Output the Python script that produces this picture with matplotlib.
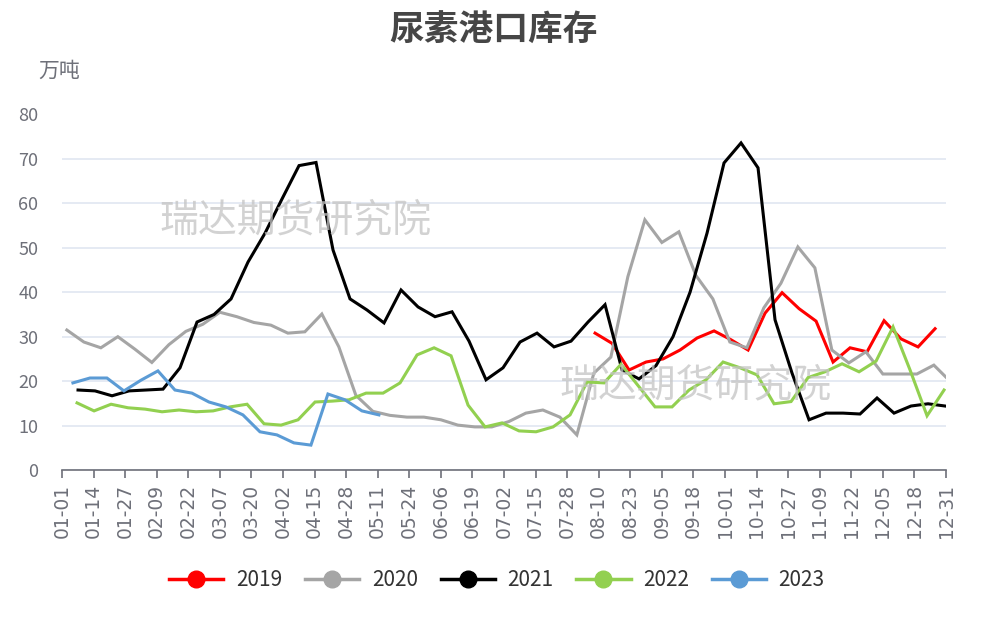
import numpy as np
import matplotlib
matplotlib.use("Agg")
import matplotlib.pyplot as plt

plt.rcParams['font.family'] = ['Noto Sans CJK SC', 'DejaVu Sans']

# x tick labels (category axis, one label every 13 days)
tick_labels = ['01-01', '01-14', '01-27', '02-09', '02-22', '03-07', '03-20',
               '04-02', '04-15', '04-28', '05-11', '05-24', '06-06', '06-19',
               '07-02', '07-15', '07-28', '08-10', '08-23', '09-05', '09-18',
               '10-01', '10-14', '10-27', '11-09', '11-22', '12-05', '12-18',
               '12-31']

# weekly port stocks, 万吨 (start = day of year of first reading)
start_2019 = 219.5
stock_2019 = [30.8, 28.5, 22.5, 24.3, 25.0, 27.0, 29.7, 31.3, 29.3, 27.0, 35.3,
              39.9, 36.3, 33.5, 24.3, 27.5, 26.6, 33.6, 29.5, 27.7, 31.8]

start_2020 = 2.0
stock_2020 = [31.5, 28.8, 27.5, 30.0, 27.2, 24.2, 28.2, 31.2, 32.8, 35.5, 34.5,
              33.2, 32.6, 30.8, 31.1, 35.1, 27.7, 16.8, 13.2, 12.3, 11.9, 11.9,
              11.3, 10.1, 9.7, 9.7, 10.9, 12.8, 13.5, 11.9, 7.9, 21.8, 25.4,
              43.5, 56.3, 51.2, 53.6, 43.8, 38.5, 28.8, 27.5, 36.5, 42.0, 50.2,
              45.5, 27.0, 24.1, 26.6, 21.6, 21.6, 21.6, 23.6, 19.8]

start_2021 = 6.6
stock_2021 = [18.0, 17.8, 16.7, 17.8, 18.0, 18.2, 23.0, 33.3, 35.0, 38.5, 46.8,
              53.3, 61.0, 68.5, 69.2, 49.5, 38.5, 36.0, 33.1, 40.5, 36.7, 34.5,
              35.6, 29.0, 20.3, 23.0, 28.8, 30.8, 27.7, 29.0, 33.3, 37.2, 22.5,
              20.5, 23.5, 30.0, 40.0, 53.3, 69.1, 73.6, 68.0, 33.8, 21.8, 11.3,
              12.8, 12.8, 12.6, 16.2, 12.8, 14.4, 14.9, 14.4]

start_2022 = 6.2
stock_2022 = [15.1, 13.3, 14.8, 14.0, 13.7, 13.1, 13.5, 13.1, 13.3, 14.2, 14.8,
              10.4, 10.1, 11.3, 15.3, 15.5, 15.8, 17.3, 17.3, 19.6, 25.9, 27.5,
              25.7, 14.6, 9.7, 10.6, 8.8, 8.6, 9.7, 12.4, 19.8, 19.6, 23.8, 19.0,
              14.2, 14.2, 18.0, 20.3, 24.3, 23.0, 21.4, 14.9, 15.4, 20.8, 22.1,
              23.9, 22.1, 24.5, 32.2, 22.5, 12.2, 18.0]

start_2023 = 4.5
stock_2023 = [19.6, 20.7, 20.7, 17.8, 20.2, 22.3, 18.0, 17.3, 15.3, 14.2, 12.4,
              8.6, 7.9, 6.1, 5.6, 17.1, 15.8, 13.3, 12.4]

series = [
    ('2019', start_2019, stock_2019, '#FF0000'),
    ('2020', start_2020, stock_2020, '#A5A5A5'),
    ('2021', start_2021, stock_2021, '#000000'),
    ('2022', start_2022, stock_2022, '#92D050'),
    ('2023', start_2023, stock_2023, '#5B9BD5'),
]

fig = plt.figure(figsize=(9.94, 6.25), dpi=100)
ax = fig.add_axes([62 / 994, 1 - 470 / 625, 884 / 994, 355.5 / 625])

for i, (name, start, vals, color) in enumerate(series):
    days = start + 7 * np.arange(len(vals))
    ax.plot(days, vals, color=color, lw=2.2, label=name, zorder=3 + i,
            solid_joinstyle='miter')

ax.set_xlim(0, 364)
ax.set_ylim(0, 80)
ax.set_yticks(range(0, 81, 10))
ax.set_xticks(np.arange(len(tick_labels)) * 13)
ax.set_xticklabels(tick_labels, rotation=90, family='DejaVu Sans')
ax.grid(axis='y', color='#E0E6F1', lw=1.2)
ax.set_axisbelow(True)
for side in ['left', 'right', 'top']:
    ax.spines[side].set_visible(False)
ax.spines['bottom'].set_color('#6E7079')
ax.spines['bottom'].set_linewidth(1.2)
ax.tick_params(axis='y', length=0, pad=17, labelsize=13, labelcolor='#6E7079')
ax.tick_params(axis='x', length=6, width=1.2, color='#6E7079', pad=4,
               labelsize=13.5, labelcolor='#6E7079')

fig.text(0.497, 0.952, '尿素港口库存', ha='center', va='center',
         fontsize=25, fontweight='bold', color='#464646')
fig.text(38 / 994, 1 - 71 / 625, '万吨', ha='left', va='center',
         fontsize=15, color='#6E7079')

# watermarks
for wx, wy in [(295, 220), (695, 385)]:
    fig.text(wx / 994, 1 - wy / 625, '瑞达期货研究院', ha='center', va='center',
             fontsize=28, color='#C4C4C4', alpha=0.75, zorder=10)

leg_lines = [plt.Line2D([], [], color=c, lw=2.5, marker='o', markersize=12)
             for _, _, _, c in series]
fig.legend(leg_lines, [s[0] for s in series], loc='center',
           bbox_to_anchor=(0.5, 1 - 580 / 625), ncol=5, frameon=False,
           fontsize=15, handlelength=2.6, handletextpad=0.6,
           columnspacing=1.1, labelcolor='#333333')

fig.savefig('out.png', dpi=100)
